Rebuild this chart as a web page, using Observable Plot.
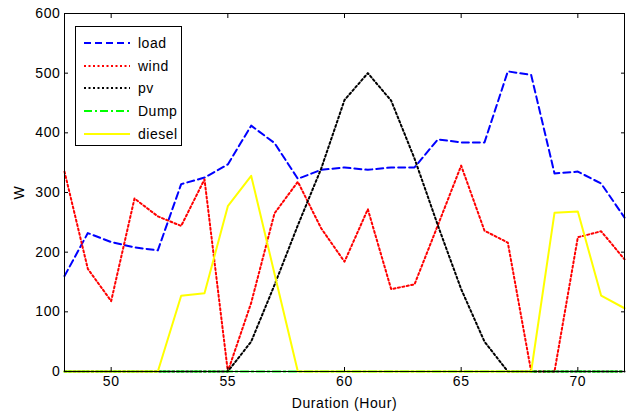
<!DOCTYPE html>
<html><head><meta charset="utf-8">
<script src="https://cdn.jsdelivr.net/npm/d3@7"></script>
<script src="https://cdn.jsdelivr.net/npm/@observablehq/plot@0.6"></script>
<style>
body{margin:0;background:#fff;}
#wrap{position:relative;width:627px;height:414px;font-family:"Liberation Sans",Arial,sans-serif;}
#wrap svg text{letter-spacing:0.6px;}
#legend{position:absolute;left:75px;top:26px;width:107px;height:120px;border:1px solid #000;background:#fff;box-sizing:border-box;}
.row{position:absolute;left:0;height:20px;display:flex;align-items:center;}
.row span{font-size:14px;color:#000;letter-spacing:0.5px;}
</style></head><body><div id="wrap"></div>
<script>
const hours = [48,49,50,51,52,53,54,55,56,57,58,59,60,61,62,63,64,65,66,67,68,69,70,71,72];
const load   = [160,232,217,208,203,314,325,347,412,383,323,338,342,338,342,342,389,384,384,503,497,332,335,315,258];
const wind   = [335,172,118,290,260,244,322,0,115,265,318,240,184,272,138,146,245,345,236,216,0,0,225,235,188];
const pv     = [0,0,0,0,0,0,0,0,50,145,245,340,455,500,454,357,245,138,50,0,0,0,0,0,0];
const dump   = [0,0,0,0,0,0,0,0,0,0,0,0,0,0,0,0,0,0,0,0,0,0,0,0,0];
const diesel = [0,0,0,0,0,127,131,277,328,164,0,0,0,0,0,0,0,0,0,0,0,266,268,127,106];
const xTicks = [50,55,60,65,70];
const yTicks = [0,100,200,300,400,500,600];
const names = ["load","wind","pv","Dump","diesel"];
const colors = ["#0000ff","#ff0000","#000000","#00ff00","#ffff00"];
const dashes = ["7,4","2,2.5","2,2.5","8,3,2,3",null];
const values = [load, wind, pv, dump, diesel];

const data = names.flatMap((n, k) => values[k].map((v, i) => ({hour: hours[i], value: v, name: n})));

const chart = Plot.plot({
  width: 627, height: 414,
  marginLeft: 64, marginRight: 3, marginTop: 13, marginBottom: 43,
  x: {domain: [48, 72]},
  y: {domain: [0, 600]},
  style: {fontFamily: '"Liberation Sans", Arial, sans-serif', fontSize: "14px", color: "#000", background: "#fff"},
  marks: [
    ...names.map((n, k) => Plot.line(data.filter(d => d.name === n), {
      x: "hour", y: "value", stroke: colors[k], strokeWidth: 2,
      strokeDasharray: dashes[k] || undefined
    })),
    Plot.frame({stroke: "#000"}),
    Plot.axisX({ticks: xTicks, tickSize: -4, tickPadding: 9, fontSize: 14, label: "Duration (Hour)", labelAnchor: "center", labelArrow: "none", labelOffset: 36}),
    Plot.axisX({anchor: "top", ticks: xTicks, tickSize: -4, text: null, label: null}),
    Plot.axisY({ticks: yTicks, tickSize: -4, tickPadding: 8, fontSize: 14, label: "W", labelAnchor: "center", labelArrow: "none", labelOffset: 50}),
    Plot.axisY({anchor: "right", ticks: yTicks, tickSize: -4, text: null, label: null})
  ]
});
const wrap = document.getElementById("wrap");
wrap.appendChild(chart);

const legend = document.createElement("div");
legend.id = "legend";
names.forEach((n, k) => {
  const row = document.createElement("div");
  row.className = "row";
  row.style.top = (6 + k * 22.7) + "px";
  row.innerHTML = `<svg width="54" height="20" style="margin-left:8px"><line x1="0" x2="46" y1="10" y2="10" stroke="${colors[k]}" stroke-width="2" ${dashes[k] ? `stroke-dasharray="${dashes[k]}"` : ""}/></svg><span>${n}</span>`;
  legend.appendChild(row);
});
wrap.appendChild(legend);
</script>
</body></html>
